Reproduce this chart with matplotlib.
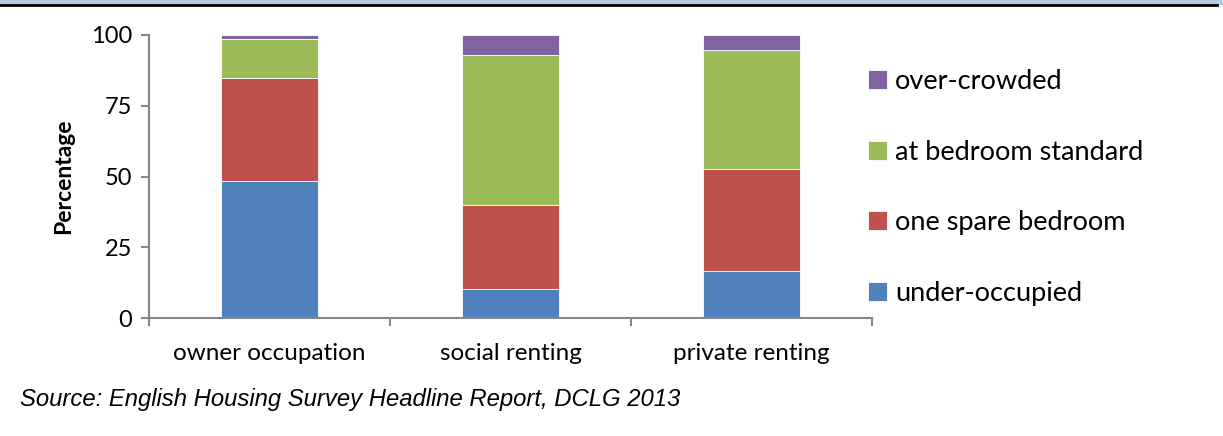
import matplotlib
matplotlib.use("Agg")
import matplotlib.pyplot as plt
import numpy as np
from matplotlib.patches import Rectangle

categories = ["owner occupation", "social renting", "private renting"]
series_names = ["under-occupied", "one spare bedroom", "at bedroom standard", "over-crowded"]
under_occupied = [48.6, 10.2, 16.7]
one_spare = [36.3, 29.8, 36.1]
at_standard = [13.7, 52.9, 41.7]
over_crowded = [1.4, 7.1, 5.5]
colors = ["#4F81BD", "#C0504D", "#9BBB59", "#8064A2"]
yticks = [0, 25, 50, 75, 100]

fig = plt.figure(figsize=(12.23, 4.36), dpi=100)
ax = fig.add_axes([0.1218, 0.270, 0.5912, 0.650])

x = np.arange(len(categories))
bottom = np.zeros(len(categories))
handles = []
for vals, name, c in zip([under_occupied, one_spare, at_standard, over_crowded], series_names, colors):
    b = ax.bar(x, vals, width=0.4, bottom=bottom, color=c, label=name,
               edgecolor="white", linewidth=0.6)
    bottom += np.array(vals)
    handles.append(b)

ax.set_xlim(-0.5, len(categories) - 0.5)
ax.set_ylim(0, 100)
ax.set_yticks(yticks)
ax.set_yticklabels([str(v) for v in yticks], fontsize=17, family="Lato")
ax.set_xticks(x)
ax.set_xticklabels(categories, fontsize=17.5, family="Lato")
ax.tick_params(axis="x", length=0, pad=18)
ax.set_xticks(np.arange(-0.5, len(categories), 1.0), minor=True)
ax.tick_params(axis="x", which="minor", length=6, color="#868686", width=1.5, direction="out")
ax.tick_params(axis="y", length=6, color="#868686", width=1.5, direction="out", pad=6)
for s in ["top", "right"]:
    ax.spines[s].set_visible(False)
for s in ["left", "bottom"]:
    ax.spines[s].set_color("#868686")
    ax.spines[s].set_linewidth(1.5)
ax.set_ylabel("Percentage", fontsize=16.5, fontweight="bold", family="Lato", labelpad=12)

leg = fig.legend(handles[::-1], series_names[::-1], loc="upper left",
                 bbox_to_anchor=(0.690, 0.897), frameon=False,
                 prop={"family": "Lato", "size": 19.5},
                 handlelength=0.7, handleheight=0.7, handletextpad=0.3,
                 labelspacing=1.68)

fig.text(0.016, 0.083, "Source: English Housing Survey Headline Report, DCLG 2013",
         fontsize=17.2, style="italic", family="Liberation Sans", va="center")

# top banner remnant
fig.add_artist(Rectangle((0, 0.988), 1, 0.012, transform=fig.transFigure,
                         facecolor="#B8CCE4", edgecolor="none"))
fig.add_artist(plt.Line2D([0, 0.995], [0.988, 0.988], transform=fig.transFigure,
                          color="black", linewidth=2))

fig.savefig("out.png", dpi=100)
